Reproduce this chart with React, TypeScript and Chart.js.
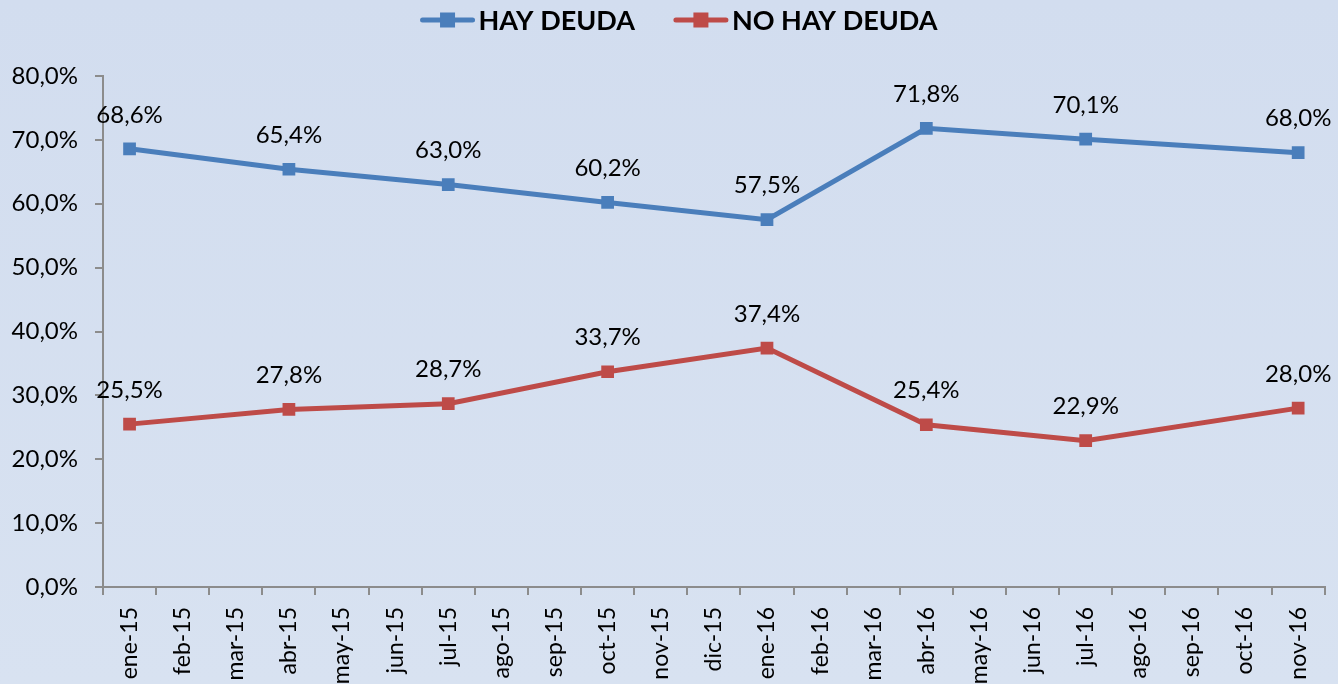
import React, { useEffect, useRef } from "react";
import { Chart, registerables } from "chart.js";

Chart.register(...registerables);

const categories = [
  "ene-15", "feb-15", "mar-15", "abr-15", "may-15", "jun-15", "jul-15", "ago-15",
  "sep-15", "oct-15", "nov-15", "dic-15", "ene-16", "feb-16", "mar-16", "abr-16",
  "may-16", "jun-16", "jul-16", "ago-16", "sep-16", "oct-16", "nov-16",
];

const hayDeuda: (number | null)[] = [
  68.6, null, null, 65.4, null, null, 63.0, null, null, 60.2, null, null,
  57.5, null, null, 71.8, null, null, 70.1, null, null, null, 68.0,
];

const noHayDeuda: (number | null)[] = [
  25.5, null, null, 27.8, null, null, 28.7, null, null, 33.7, null, null,
  37.4, null, null, 25.4, null, null, 22.9, null, null, null, 28.0,
];

const seriesNames = ["HAY DEUDA", "NO HAY DEUDA"];
const seriesColors = ["#4a7ebb", "#be4b48"];

const fmt = (v: number) => v.toFixed(1).replace(".", ",") + "%";

const FONT = "Lato, 'Open Sans', sans-serif";

const backgroundPlugin = {
  id: "bg",
  beforeDraw(chart: any) {
    const { ctx, width, height } = chart;
    ctx.save();
    const g = ctx.createLinearGradient(0, 0, 0, height);
    g.addColorStop(0, "#d2ddef");
    g.addColorStop(1, "#d8e2f1");
    ctx.fillStyle = g;
    ctx.fillRect(0, 0, width, height);
    ctx.restore();
  },
};

const dataLabelPlugin = {
  id: "dlabels",
  afterDatasetsDraw(chart: any) {
    const { ctx } = chart;
    ctx.save();
    ctx.font = `24px ${FONT}`;
    ctx.fillStyle = "#000";
    ctx.textAlign = "center";
    ctx.textBaseline = "middle";
    chart.data.datasets.forEach((ds: any, i: number) => {
      const meta = chart.getDatasetMeta(i);
      meta.data.forEach((pt: any, j: number) => {
        const v = ds.data[j];
        if (v === null || v === undefined) return;
        ctx.fillText(fmt(v), pt.x, pt.y - 34);
      });
    });
    ctx.restore();
  },
};

const legendPlugin = {
  id: "customLegend",
  afterDraw(chart: any) {
    const { ctx } = chart;
    ctx.save();
    ctx.font = `bold 27px ${FONT}`;
    const lineLen = 54;
    const gapText = 4;
    const gapItem = 39;
    const widths = seriesNames.map((n) => ctx.measureText(n).width);
    const total =
      widths.reduce((a, b) => a + b, 0) + seriesNames.length * (lineLen + gapText) + gapItem * (seriesNames.length - 1);
    let x = 679 - total / 2;
    const y = 20;
    seriesNames.forEach((name, i) => {
      ctx.strokeStyle = seriesColors[i];
      ctx.lineWidth = 5;
      ctx.lineCap = "round";
      ctx.beginPath();
      ctx.moveTo(x + 2, y);
      ctx.lineTo(x + lineLen - 2, y);
      ctx.stroke();
      ctx.fillStyle = seriesColors[i];
      ctx.fillRect(x + lineLen / 2 - 7.5, y - 7.5, 15, 15);
      ctx.fillStyle = "#000";
      ctx.textAlign = "left";
      ctx.textBaseline = "middle";
      ctx.fillText(name, x + lineLen + gapText, y + 1);
      x += lineLen + gapText + widths[i] + gapItem;
    });
    ctx.restore();
  },
};

export default function App() {
  const ref = useRef<HTMLCanvasElement | null>(null);

  useEffect(() => {
    document.body.style.margin = "0";
    const canvas = ref.current;
    if (!canvas) return;
    const chart = new Chart(canvas, {
      type: "line",
      data: {
        labels: categories,
        datasets: [hayDeuda, noHayDeuda].map((d, i) => ({
          label: seriesNames[i],
          data: d,
          borderColor: seriesColors[i],
          backgroundColor: seriesColors[i],
          borderWidth: 5,
          pointStyle: "rect",
          pointRadius: 9,
          pointBorderWidth: 0,
          pointBackgroundColor: seriesColors[i],
          spanGaps: true,
          tension: 0,
        })),
      },
      options: {
        responsive: false,
        animation: false,
        devicePixelRatio: 1,
        layout: { padding: { top: 76, right: 11, left: 0, bottom: 0 } },
        plugins: {
          legend: { display: false },
          tooltip: { enabled: false },
        },
        scales: {
          x: {
            offset: true,
            grid: {
              offset: true,
              drawOnChartArea: false,
              drawTicks: true,
              tickLength: 8,
              color: "#8c8c8c",
              lineWidth: 2,
            },
            border: { color: "#8c8c8c", width: 2 },
            ticks: {
              autoSkip: false,
              maxRotation: 90,
              minRotation: 90,
              padding: 12,
              color: "#000",
              font: { family: FONT, size: 23 },
            },
            afterFit(scale: any) {
              scale.height = 97;
            },
          },
          y: {
            min: 0,
            max: 80,
            grid: {
              drawOnChartArea: false,
              drawTicks: true,
              tickLength: 8,
              color: "#8c8c8c",
              lineWidth: 2,
            },
            border: { color: "#8c8c8c", width: 2 },
            ticks: {
              stepSize: 10,
              padding: 17,
              color: "#000",
              font: { family: FONT, size: 24 },
              callback: (v: any) => fmt(Number(v)),
            },
            afterFit(scale: any) {
              scale.width = 103;
            },
          },
        },
      },
      plugins: [backgroundPlugin, dataLabelPlugin, legendPlugin],
    });
    return () => chart.destroy();
  }, []);

  return (
    <div style={{ position: "absolute", left: 0, top: 0, width: 1338, height: 684 }}>
      <canvas ref={ref} width={1338} height={684} style={{ display: "block" }} />
    </div>
  );
}
